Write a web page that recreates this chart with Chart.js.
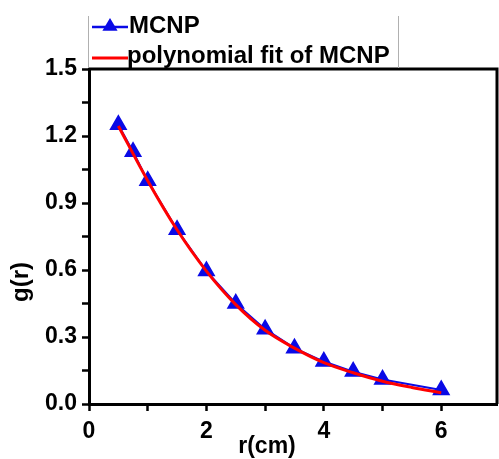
<!DOCTYPE html>
<html lang="en">
<head>
    <meta charset="UTF-8" />
    <title>g(r)</title>
    <script src="https://cdn.jsdelivr.net/npm/chart.js"></script>
    <style>
        html, body { margin: 0; padding: 0; background: #fff; overflow: hidden; }
        #box { width: 499px; height: 459px; position: relative; }
        canvas { display: block; }
    </style>
</head>
<body>
    <div id="box"><canvas id="grafico"></canvas></div>
<script>
    // dados
    const rValues = [0.5, 0.75, 1, 1.5, 2, 2.5, 3, 3.5, 4, 4.5, 5, 6];
    const gValues = [1.25, 1.13, 1.0, 0.78, 0.595, 0.45, 0.335, 0.25, 0.19, 0.145, 0.11, 0.063];
    const fitR = [0.5, 1, 1.5, 2, 2.5, 3, 3.5, 4, 4.5, 5, 5.5, 6];
    const fitG = [1.245, 1.0, 0.78, 0.595, 0.445, 0.33, 0.25, 0.185, 0.14, 0.102, 0.074, 0.05];
    const xTicks = [0, 1, 2, 3, 4, 5, 6];
    const yTicks = [0, 0.15, 0.3, 0.45, 0.6, 0.75, 0.9, 1.05, 1.2, 1.35, 1.5];
    const legendLabels = ['MCNP', 'polynomial fit of MCNP'];

    const fonte = '"Liberation Sans", Arial, sans-serif';
    const azul = '#0a0ae6';
    const vermelho = '#ff0000';

    const pontos = rValues.map((r, i) => ({ x: r, y: gValues[i] }));
    const ajuste = fitR.map((r, i) => ({ x: r, y: fitG[i] }));

    function desenharTriangulo(ctx, x, y, r) {
        ctx.beginPath();
        ctx.moveTo(x, y - r);
        ctx.lineTo(x + r * 0.95, y + r * 0.6);
        ctx.lineTo(x - r * 0.95, y + r * 0.6);
        ctx.closePath();
        ctx.fill();
    }

    const extras = {
        id: 'extras',
        afterDraw(chart) {
            const ctx = chart.ctx;
            const a = chart.chartArea;
            ctx.save();
            // moldura superior e direita
            ctx.strokeStyle = '#000';
            ctx.lineWidth = 3;
            ctx.beginPath();
            ctx.moveTo(a.left, a.top);
            ctx.lineTo(a.right, a.top);
            ctx.lineTo(a.right, a.bottom);
            ctx.stroke();

            // legenda
            ctx.strokeStyle = '#b0b0b0';
            ctx.lineWidth = 1;
            ctx.beginPath();
            ctx.moveTo(88.5, 16); ctx.lineTo(88.5, a.top - 1);
            ctx.moveTo(398.5, 16); ctx.lineTo(398.5, a.top - 1);
            ctx.stroke();

            ctx.lineWidth = 2.5;
            ctx.strokeStyle = azul;
            ctx.beginPath(); ctx.moveTo(92, 27); ctx.lineTo(128, 27); ctx.stroke();
            ctx.fillStyle = azul;
            desenharTriangulo(ctx, 110, 26, 8);
            ctx.strokeStyle = vermelho;
            ctx.lineWidth = 3;
            ctx.beginPath(); ctx.moveTo(92, 58); ctx.lineTo(128, 58); ctx.stroke();

            ctx.fillStyle = '#000';
            ctx.font = 'bold 24px ' + fonte;
            ctx.textBaseline = 'middle';
            ctx.textAlign = 'left';
            ctx.fillText(legendLabels[0], 129, 26);
            ctx.fillText(legendLabels[1], 127, 56);

            // titulos dos eixos
            ctx.font = 'bold 23px ' + fonte;
            ctx.textAlign = 'center';
            ctx.fillText('r(cm)', 267, 447);
            ctx.translate(21, 282);
            ctx.rotate(-Math.PI / 2);
            ctx.font = 'bold 24px ' + fonte;
            ctx.fillText('g(r)', 0, 0);
            ctx.restore();
        }
    };

    new Chart(document.getElementById('grafico'), {
        type: 'scatter',
        data: {
            datasets: [{
                label: legendLabels[0],
                data: pontos,
                showLine: true,
                borderColor: azul,
                backgroundColor: azul,
                borderWidth: 2,
                pointStyle: 'triangle',
                pointRadius: 8.5,
                pointHoverRadius: 8.5,
                order: 2
            }, {
                label: legendLabels[1],
                data: ajuste,
                showLine: true,
                borderColor: vermelho,
                borderWidth: 3,
                pointRadius: 0,
                cubicInterpolationMode: 'monotone',
                order: 1
            }]
        },
        options: {
            responsive: true,
            maintainAspectRatio: false,
            animation: false,
            layout: { autoPadding: false, padding: { top: 69, right: 2, left: 0, bottom: 0 } },
            plugins: {
                legend: { display: false },
                tooltip: { enabled: false }
            },
            scales: {
                x: {
                    type: 'linear',
                    min: 0,
                    max: 6.95,
                    afterBuildTicks: (s) => { s.ticks = xTicks.map(v => ({ value: v })); },
                    afterFit: (s) => { s.height = 55; s.paddingLeft = 0; s.paddingRight = 0; },
                    ticks: {
                        color: '#000',
                        font: { family: fonte, size: 23, weight: 'bold' },
                        padding: 7,
                        maxRotation: 0,
                        autoSkip: false,
                        callback: (v) => (v % 2 === 0 ? String(v) : '')
                    },
                    grid: { drawOnChartArea: false, drawTicks: true, tickLength: 7, tickWidth: 2.5, tickColor: '#000' },
                    border: { display: true, color: '#000', width: 3 }
                },
                y: {
                    min: 0,
                    max: 1.5,
                    afterBuildTicks: (s) => { s.ticks = yTicks.map(v => ({ value: v })); },
                    afterFit: (s) => { s.width = 89; s.paddingTop = 0; s.paddingBottom = 0; },
                    ticks: {
                        color: '#000',
                        font: { family: fonte, size: 23, weight: 'bold' },
                        padding: 5,
                        autoSkip: false,
                        callback: (v, i) => (i % 2 === 0 ? v.toFixed(1) : '')
                    },
                    grid: { drawOnChartArea: false, drawTicks: true, tickLength: 7, tickWidth: 2.5, tickColor: '#000' },
                    border: { display: true, color: '#000', width: 3 }
                }
            }
        },
        plugins: [extras]
    });
</script>
</body>
</html>
